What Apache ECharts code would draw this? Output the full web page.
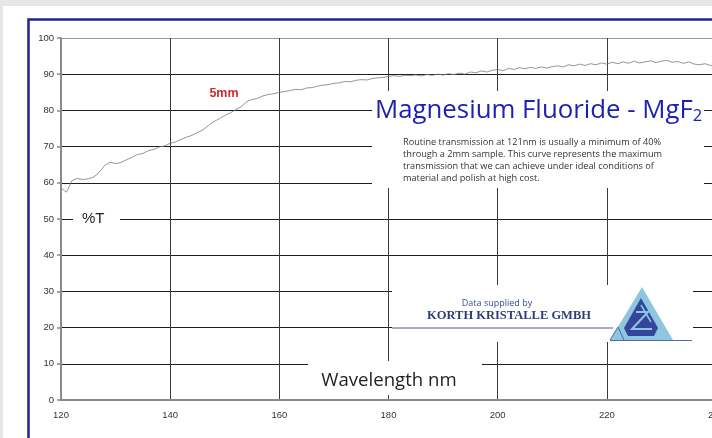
<!DOCTYPE html>
<html>
<head>
<meta charset="utf-8">
<script src="https://cdn.jsdelivr.net/npm/echarts@6/dist/echarts.min.js"></script>
<style>
html,body{margin:0;padding:0;background:#e6e6e6;}
#chart{width:712px;height:438px;}
</style>
</head>
<body>
<div id="chart"></div>
<script>
// Wavelength (nm)
const wavelengths = [
120,121,122,123,124,125,126,127,128,129,
130,131,132,133,134,135,136,137,138,139,
140,141,142,143,144,145,146,147,148,149,
150,151,152,153,154,155,156,157,158,159,
160,161,162,163,164,165,166,167,168,169,
170,171,172,173,174,175,176,177,178,179,
180,181,182,183,184,185,186,187,188,189,
190,191,192,193,194,195,196,197,198,199,
200,201,202,203,204,205,206,207,208,209,
210,211,212,213,214,215,216,217,218,219,
220,221,222,223,224,225,226,227,228,229,
230,231,232,233,234,235,236,237,238,239,240];
// Transmission %T (5mm MgF2)
const transmission = [
58.6,57.4,60.6,61.2,60.9,61.1,61.6,62.9,64.8,65.7,
65.3,65.6,66.4,67.0,67.8,68.1,68.9,69.2,69.9,70.2,
70.9,71.3,72.0,72.6,73.1,73.9,74.6,75.8,76.9,77.7,
78.6,79.3,80.2,81.0,82.4,83.0,83.3,84.0,84.4,84.6,
85.0,85.2,85.5,85.8,85.7,86.2,86.3,86.7,87.0,87.1,
87.5,87.6,88.0,87.9,88.3,88.5,88.4,88.8,89.0,89.1,
89.4,89.6,89.4,89.7,89.6,89.8,89.5,89.9,89.7,90.0,
89.8,90.1,89.9,90.3,90.0,90.6,90.4,90.9,90.6,91.1,
91.3,91.0,91.6,91.3,91.8,91.5,91.9,91.6,92.0,91.7,
92.1,92.3,92.0,92.6,92.3,92.8,92.4,92.9,92.6,93.1,
92.8,93.3,92.9,93.4,93.0,93.6,93.1,93.4,93.7,93.2,
93.6,93.8,93.3,93.5,93.0,93.4,92.8,92.6,92.9,92.4,92.7];
const xTicks = [120,140,160,180,200,220,240];
const yTicks = [0,10,20,30,40,50,60,70,80,90,100];

const titleText = 'Magnesium Fluoride - MgF';
const noteLines = [
  'Routine transmission at 121nm is usually a minimum of 40%',
  'through a 2mm sample. This curve represents the maximum',
  'transmission that we can achieve under ideal conditions of',
  'material and polish at high cost.'
];

const chart = echarts.init(document.getElementById('chart'), null, {renderer:'canvas'});
const seriesData = wavelengths.map((w,i)=>[w, transmission[i]]);

const hColors = yTicks.map((v,i)=> (i===yTicks.length-1) ? '#9a9a9a' : '#1e1e1e');

const graphics = [
  // page background
  {type:'rect', shape:{x:3,y:6,width:720,height:440}, style:{fill:'#ffffff'}, z:-10, silent:true},
  {type:'rect', shape:{x:28.5,y:19.5,width:720,height:440}, style:{fill:'none', stroke:'#1c2590', lineWidth:2.5}, z:-9, silent:true},
  // occluding boxes
  {type:'rect', shape:{x:372,y:91,width:332,height:97}, style:{fill:'#ffffff'}, z:3},
  {type:'rect', shape:{x:73,y:210,width:47,height:18}, style:{fill:'#ffffff'}, z:3},
  {type:'rect', shape:{x:308,y:361,width:174,height:34}, style:{fill:'#ffffff'}, z:3},
  {type:'rect', shape:{x:392,y:285,width:301,height:57}, style:{fill:'#ffffff'}, z:3},
  // Korth box lines
  {type:'line', shape:{x1:392,y1:328,x2:613,y2:328}, style:{stroke:'#4e5a86', lineWidth:1}, z:4},
  {type:'line', shape:{x1:610,y1:340.5,x2:692,y2:340.5}, style:{stroke:'#5a6a9a', lineWidth:1}, z:4},
  // logo
  {type:'polygon', shape:{points:[[642,287],[610,340],[673,340]]}, style:{fill:'#8fc6df'}, z:4},
  {type:'polyline', shape:{points:[[610,340],[618,327],[624,340]]}, style:{stroke:'#4b6aa0', lineWidth:1, fill:'none'}, z:5},
  {type:'polygon', shape:{points:[[641,298],[658,328],[654,336],[628,336],[624,328]]}, style:{fill:'#34469c'}, z:5},
  {type:'polyline', shape:{points:[[636,312],[648,312],[632,329],[652,329]]}, style:{stroke:'#8fc6df', lineWidth:2, fill:'none'}, z:6},
  {type:'polyline', shape:{points:[[641,305],[651,322]]}, style:{stroke:'#8fc6df', lineWidth:1.5, fill:'none'}, z:6},
  // texts
  {type:'text', z:6, style:{x:375, y:111, text:'{a|'+titleText+'}{b|2}', verticalAlign:'middle', align:'left',
     rich:{a:{fontFamily:'Open Sans', fontSize:25.8, fill:'#1f22b0'}, b:{fontFamily:'Open Sans', fontSize:16.5, fill:'#1f22b0', padding:[11,0,0,0]}}}},
  {type:'text', z:6, style:{x:403, y:136, text:noteLines.join('\n'), fontFamily:'Open Sans', fontSize:9.2, lineHeight:12, fill:'#333333', align:'left', verticalAlign:'top'}},
  {type:'text', z:6, style:{x:82, y:219, text:'%T', fontFamily:'Liberation Sans', fontSize:15, fill:'#222222', align:'left', verticalAlign:'middle'}},
  {type:'text', z:6, style:{x:389, y:381, text:'Wavelength nm', fontFamily:'Open Sans', fontSize:18.6, fill:'#222222', align:'center', verticalAlign:'middle'}},
  {type:'text', z:6, style:{x:497, y:303, text:'Data supplied by', fontFamily:'Open Sans', fontSize:9, fill:'#3a4a9c', align:'center', verticalAlign:'middle'}},
  {type:'text', z:6, style:{x:509, y:316, text:'KORTH KRISTALLE GMBH', fontFamily:'Liberation Serif', fontWeight:'bold', fontSize:12.5, fill:'#2f3e72', align:'center', verticalAlign:'middle'}},
  {type:'text', z:6, style:{x:224, y:94, text:'5mm', fontFamily:'Liberation Sans', fontWeight:'bold', fontSize:12.5, fill:'#d42a2a', align:'center', verticalAlign:'middle'}}
];

chart.setOption({
  backgroundColor:'transparent',
  animation:false,
  grid:{left:61, top:38, width:655, height:362, containLabel:false, outerBoundsMode:'none'},
  xAxis:{
    type:'value', min:xTicks[0], max:xTicks[xTicks.length-1], interval:20,
    axisLine:{show:true, lineStyle:{color:'#8a8a8a', width:2}},
    axisTick:{show:false},
    axisLabel:{color:'#333', fontFamily:'Liberation Sans', fontSize:9.5, margin:10},
    splitLine:{show:true, lineStyle:{color:'#3a3a3a', width:1}}
  },
  yAxis:{
    type:'value', min:yTicks[0], max:yTicks[yTicks.length-1], interval:10,
    axisLine:{show:true, lineStyle:{color:'#8a8a8a', width:2}},
    axisTick:{show:true, length:4, lineStyle:{color:'#8a8a8a', width:1.5}},
    axisLabel:{color:'#333', fontFamily:'Liberation Sans', fontSize:9.5, margin:7},
    splitLine:{show:true, lineStyle:{color:hColors, width:1}}
  },
  series:[{
    type:'line', data:seriesData, symbol:'none', z:10,
    lineStyle:{color:'#7a7a7a', width:0.8}
  }],
  graphic:graphics
});
</script>
</body>
</html>
